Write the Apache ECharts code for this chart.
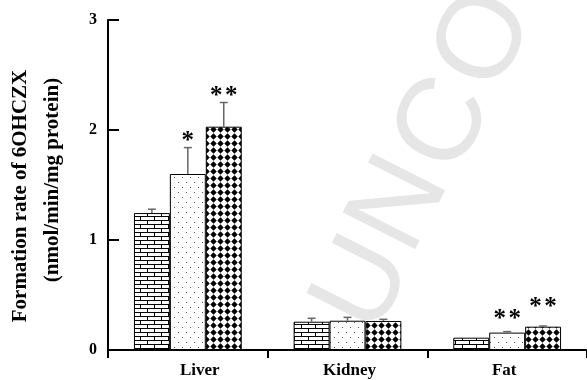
<!DOCTYPE html>
<html>
<head>
<meta charset="utf-8">
<script src="https://cdn.jsdelivr.net/npm/echarts@6/dist/echarts.min.js"></script>
<style>html,body{margin:0;padding:0;background:#fff;}#c{width:587px;height:380px;}</style>
</head>
<body>
<div id="c"></div>
<script>
// ---- data ----
const categories = ['Liver', 'Kidney', 'Fat'];
const yTicks = [0, 1, 2, 3];
const controlVals = [1.245, 0.257, 0.112];
const controlErr = [0.035, 0.031, 0.0];
const lowVals = [1.60, 0.266, 0.158];
const lowErr = [0.24, 0.031, 0.009];
const highVals = [2.03, 0.264, 0.212];
const highErr = [0.22, 0.015, 0.006];
const lowSig = [1, 0, 2];   // number of asterisks
const highSig = [2, 0, 2];
const lowSigY = [1.94, null, 0.32];
const highSigY = [2.35, null, 0.43];
const axisTitle1 = 'Formation rate of 6OHCZX';
const axisTitle2 = '(nmol/min/mg protein)';
const watermark = ['U', 'N', 'C', 'O'];

// ---- patterns ----
function makeCanvas(w, h) {
  const c = document.createElement('canvas'); c.width = w; c.height = h;
  const ctx = c.getContext('2d'); ctx.fillStyle = '#fff'; ctx.fillRect(0, 0, w, h);
  return [c, ctx];
}
function brick() {
  const [c, ctx] = makeCanvas(14, 8);
  ctx.strokeStyle = '#000'; ctx.lineWidth = 1;
  ctx.beginPath();
  ctx.moveTo(0, 0.5); ctx.lineTo(14, 0.5);
  ctx.moveTo(0, 4.5); ctx.lineTo(14, 4.5);
  ctx.moveTo(0.5, 0); ctx.lineTo(0.5, 4.5);
  ctx.moveTo(7.5, 4.5); ctx.lineTo(7.5, 8);
  ctx.stroke();
  return c;
}
function dots() {
  const [c, ctx] = makeCanvas(8, 10);
  ctx.fillStyle = '#555';
  ctx.fillRect(2, 2, 1, 1);
  ctx.fillRect(6, 7, 1, 1);
  return c;
}
function diamonds() {
  const [c, ctx] = makeCanvas(7, 7);
  ctx.fillStyle = '#000';
  ctx.beginPath();
  ctx.moveTo(3.5, 0.3); ctx.lineTo(6.7, 3.5); ctx.lineTo(3.5, 6.7); ctx.lineTo(0.3, 3.5);
  ctx.closePath(); ctx.fill();
  return c;
}
const patterns = [brick(), dots(), diamonds()];

const BAR_FRAC = 0.225;
const chart = echarts.init(document.getElementById('c'), null, {renderer: 'canvas'});

const barSets = [
  {vals: controlVals, err: controlErr, sig: null, sigY: null},
  {vals: lowVals, err: lowErr, sig: lowSig, sigY: lowSigY},
  {vals: highVals, err: highErr, sig: highSig, sigY: highSigY}
];

const series = [];
barSets.forEach((s, i) => {
  series.push({
    type: 'bar', data: s.vals, barWidth: (BAR_FRAC * 100) + '%', barGap: '0%',
    itemStyle: {color: {image: patterns[i], repeat: 'repeat'}, borderColor: '#000', borderWidth: 1},
    silent: true, z: 2
  });
});
barSets.forEach((s, i) => {
  series.push({
    type: 'custom', z: 3, silent: true,
    data: s.vals.map((v, k) => [k, v, s.err[k]]),
    renderItem: function (params, api) {
      const cat = api.value(0), v = api.value(1), e = api.value(2);
      if (!e) return null;
      const band = api.size([1, 0])[0];
      const off = (i - 1) * band * BAR_FRAC;
      const b = api.coord([cat, v]);
      const t = api.coord([cat, v + e]);
      const x = b[0] + off;
      const st = {stroke: '#666', lineWidth: 1.5};
      return {type: 'group', children: [
        {type: 'line', shape: {x1: x, y1: b[1], x2: x, y2: t[1]}, style: st},
        {type: 'line', shape: {x1: x - 4, y1: t[1], x2: x + 4, y2: t[1]}, style: st}
      ]};
    }
  });
  if (s.sig) {
    series.push({
      type: 'custom', z: 4, silent: true,
      data: s.sig.map((n, k) => [k, s.sigY[k] == null ? 0 : s.sigY[k], n]),
      renderItem: function (params, api) {
        const n = api.value(2);
        if (!n) return null;
        const band = api.size([1, 0])[0];
        const off = (i - 1) * band * BAR_FRAC;
        const p = api.coord([api.value(0), api.value(1)]);
        const children = [];
        for (let j = 0; j < n; j++) {
          const dx = (j - (n - 1) / 2) * 15;
          children.push({type: 'text', x: p[0] + off + dx, y: p[1] + 5, style: {
            text: '*', font: 'bold 25px "Liberation Serif"', fill: '#000',
            textAlign: 'center', textVerticalAlign: 'middle'
          }});
        }
        return {type: 'group', children: children};
      }
    });
  }
});

const wmPos = [[365, 285], [401, 205], [445, 125], [486, 40]];
const graphic = watermark.map((ch, k) => ({
  type: 'text', x: wmPos[k][0], y: wmPos[k][1], rotation: 1.1, z: 0, silent: true,
  style: {text: ch, font: '118px "Liberation Sans"', fill: '#e6e6e6', textAlign: 'center', textVerticalAlign: 'middle'}
}));

const labelFont = {fontFamily: 'Liberation Serif', fontWeight: 'bold', fontSize: 17, color: '#000'};

chart.setOption({
  animation: false,
  backgroundColor: '#fff',
  graphic: graphic,
  grid: {left: 108, right: 0, top: 20, bottom: 30, containLabel: false, outerBoundsMode: 'none'},
  xAxis: {
    type: 'category', data: categories,
    axisLine: {lineStyle: {color: '#000', width: 2}},
    axisTick: {show: true, length: 8, lineStyle: {color: '#000', width: 2}},
    axisLabel: {
      interval: 0, hideOverlap: false,
      margin: 12, color: '#000', fontFamily: 'Liberation Serif', fontWeight: 'bold', fontSize: 17,
      formatter: function (v) { return '{' + v + '|' + v + '}'; },
      rich: {
        Liver: Object.assign({padding: [0, 0, 0, 24]}, labelFont),
        Kidney: Object.assign({padding: [0, 0, 0, 4]}, labelFont),
        Fat: Object.assign({padding: [0, 6, 0, 0]}, labelFont)
      }
    }
  },
  yAxis: {
    type: 'value', min: 0, max: 3, interval: 1,
    axisLine: {show: true, lineStyle: {color: '#000', width: 2}},
    axisTick: {show: true, inside: true, length: 11, lineStyle: {color: '#000', width: 2}},
    splitLine: {show: false},
    axisLabel: {
      margin: 11, color: '#000', fontFamily: 'Liberation Serif', fontWeight: 'bold', fontSize: 16,
      formatter: function (v) { return yTicks.indexOf(v) >= 0 ? String(v) : ''; }
    },
    name: '{a|' + axisTitle1 + '}\n{b|' + axisTitle2 + '}',
    nameLocation: 'middle', nameRotate: 90, nameGap: 39,
    nameTextStyle: {
      rich: {
        a: {fontFamily: 'Liberation Serif', fontWeight: 'bold', fontSize: 21, color: '#000', lineHeight: 32, padding: [0, 22, 0, 0]},
        b: {fontFamily: 'Liberation Serif', fontWeight: 'bold', fontSize: 21, color: '#000', lineHeight: 32, padding: [0, 0, 0, 10]}
      }
    }
  },
  series: series
});
</script>
</body>
</html>
